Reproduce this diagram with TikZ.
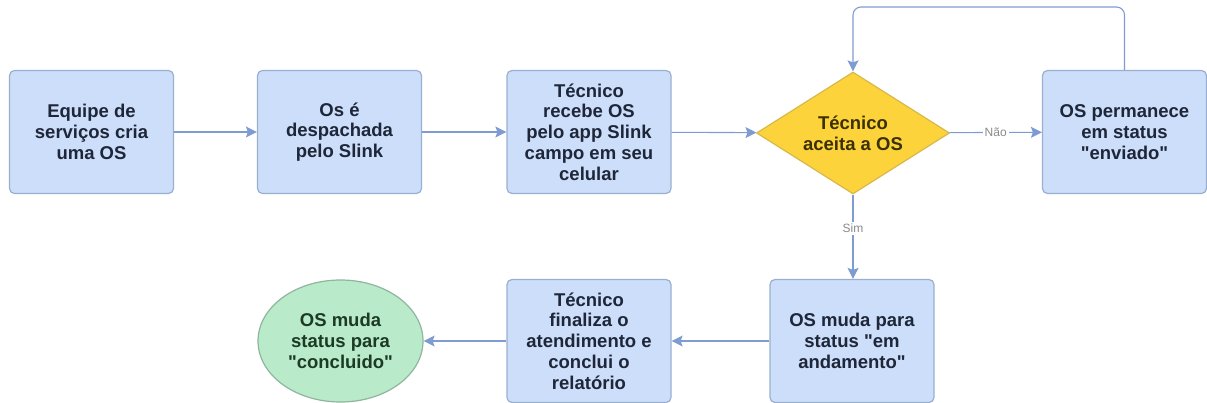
\documentclass[tikz,border=0pt]{standalone}
\usepackage{fontspec}
\setmainfont{Liberation Sans}
\newfontfamily\qfont{Liberation Sans}[Ligatures=ResetAll]
\usetikzlibrary{shapes.geometric,arrows.meta}
\newcommand{\dq}{{\qfont\symbol{34}}}
\definecolor{boxfill}{HTML}{CCDEFA}
\definecolor{boxline}{HTML}{9AAFCF}
\definecolor{boxtext}{HTML}{1E2638}
\definecolor{decfill}{HTML}{FDD33C}
\definecolor{decline}{HTML}{D8B84A}
\definecolor{dectext}{HTML}{3A3000}
\definecolor{endfill}{HTML}{B9EBCB}
\definecolor{endline}{HTML}{8FB59C}
\definecolor{endtext}{HTML}{1C3A24}
\definecolor{arrowc}{HTML}{7F9CD2}
\definecolor{labc}{HTML}{8A8A8A}
\tikzset{
  stepbox/.style={draw=boxline, fill=boxfill, line width=1.2pt, rounded corners=5pt,
    minimum width=164pt, minimum height=123pt, inner sep=1pt, align=center,
    text=boxtext, font=\fontsize{18.5}{20.8}\selectfont\bfseries},
  decbox/.style={diamond, draw=decline, fill=decfill, line width=1.2pt, aspect=1.58,
    minimum width=193pt, minimum height=122pt, inner sep=0pt, align=center,
    text=dectext, font=\fontsize{18.5}{20.8}\selectfont\bfseries},
  endbox/.style={ellipse, draw=endline, fill=endfill, line width=1.2pt,
    minimum width=165pt, minimum height=122pt, inner sep=0pt, align=center,
    text=endtext, font=\fontsize{18.5}{20.8}\selectfont\bfseries},
  conn/.style={draw=arrowc, line width=1.1pt, -{Stealth[length=11pt,width=11pt,inset=2pt]}},
  lab/.style={fill=white, text=labc, inner sep=2pt, font=\fontsize{12}{14}\selectfont}
}
\begin{document}
\begin{tikzpicture}[x=1pt,y=-1pt]
\useasboundingbox (0,0) rectangle (1207,403);
\node[stepbox] (b1) at (91.5,132) {Equipe de\\serviços cria\\uma OS};
\node[stepbox] (b2) at (339.5,132) {Os é\\despachada\\pelo Slink};
\node[stepbox] (b3) at (589,132) {Técnico\\recebe OS\\pelo app Slink\\campo em seu\\celular};
\node[decbox] (d) at (853,133) {Técnico\\aceita a OS};
\node[stepbox] (b5) at (1124.5,132) {OS permanece\\em status\\\dq enviado\dq};
\node[stepbox] (b6) at (852,341) {OS muda para\\status \dq em\\andamento\dq};
\node[stepbox] (b7) at (589,341) {Técnico\\finaliza o\\atendimento e\\conclui o\\relatório};
\node[endbox] (e) at (340.5,341) {OS muda\\status para\\\dq concluido\dq};
\coordinate (lt) at (1124.5,7);
\coordinate (lk) at (853,7);
\draw[conn] (b1) -- (b2);
\draw[conn] (b2) -- (b3);
\draw[conn] (b3) -- (d);
\draw[conn] (d) -- node[lab] {Não} (b5);
\draw[conn, rounded corners=8pt] (b5.north) -- (lt) -- (lk) -- (d.north);
\draw[conn] (d.south) -- node[lab, pos=0.4] {Sim} (d.south |- b6.north);
\draw[conn] (b6) -- (b7);
\draw[conn] (b7) -- (e);
\end{tikzpicture}
\end{document}
